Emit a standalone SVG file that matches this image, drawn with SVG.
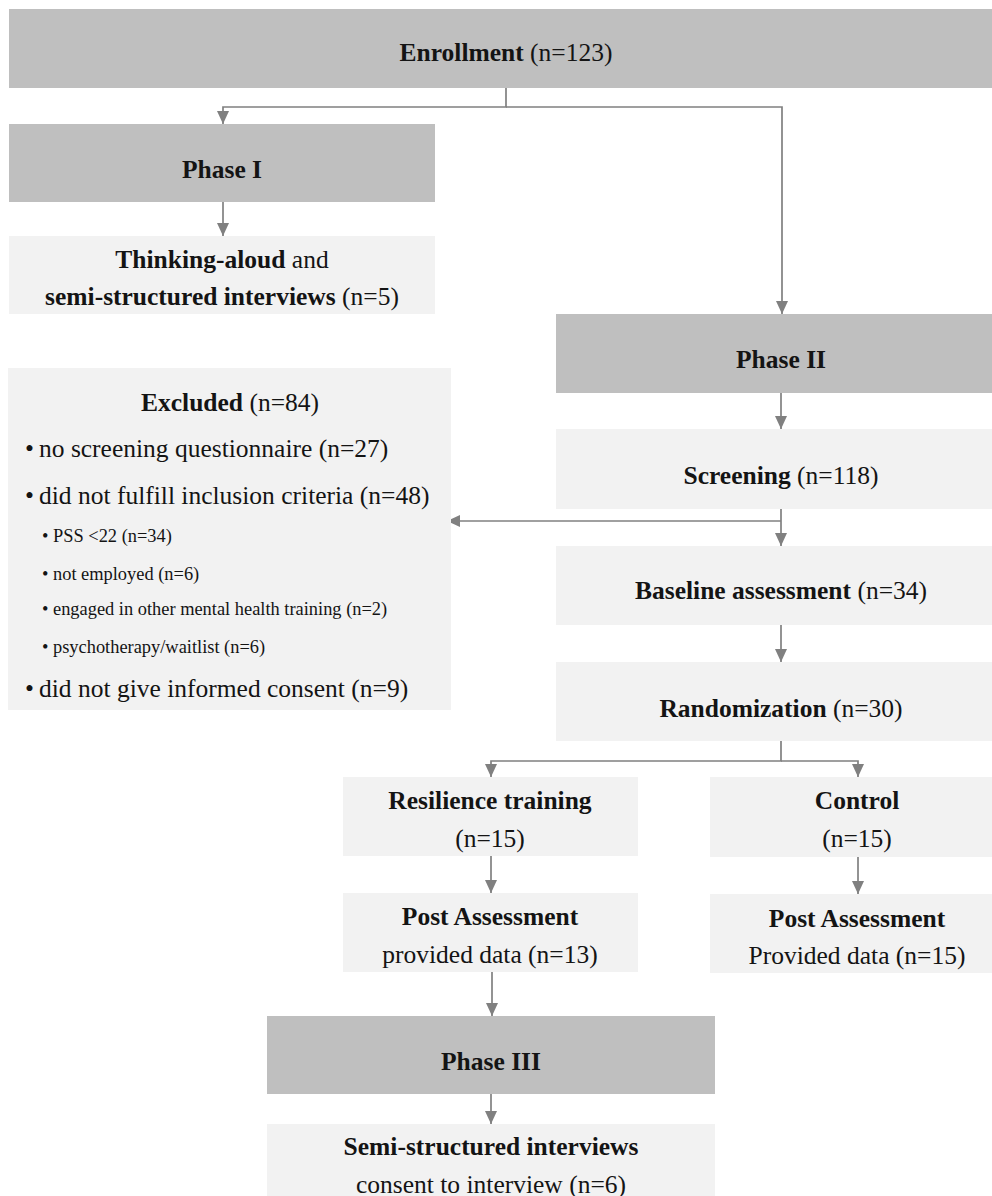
<svg xmlns="http://www.w3.org/2000/svg" width="992" height="1196" viewBox="0 0 992 1196">
<defs>
<marker id="ah" markerUnits="userSpaceOnUse" markerWidth="13" markerHeight="12" refX="13" refY="6" orient="auto">
<path d="M0,0 L13,6 L0,12 z" fill="#808080"/>
</marker>
<style>
.dark{fill:#bfbfbf}
.light{fill:#f2f2f2}
text{font-family:"Liberation Serif","Times New Roman",serif;fill:#141414;font-size:25.5px}
.c{text-anchor:middle}
.b{font-weight:bold}
.s{font-size:18.4px}
.con path{fill:none;stroke:#808080;stroke-width:1.7}
</style>
</defs>
<rect width="992" height="1196" fill="#ffffff"/>

<g class="con">
<path d="M506,88 V107 H223 V124" marker-end="url(#ah)"/>
<path d="M506,107 H782 V314" marker-end="url(#ah)"/>
<path d="M223,202 V236" marker-end="url(#ah)"/>
<path d="M781,393 V429" marker-end="url(#ah)"/>
<path d="M781,509 V546" marker-end="url(#ah)"/>
<path d="M781,521 H447" marker-end="url(#ah)"/>
<path d="M781,625 V662" marker-end="url(#ah)"/>
<path d="M781,741 V761 H491 V777" marker-end="url(#ah)"/>
<path d="M781,761 H858 V777" marker-end="url(#ah)"/>
<path d="M491,856 V893" marker-end="url(#ah)"/>
<path d="M858,857 V894" marker-end="url(#ah)"/>
<path d="M492,972 V1016" marker-end="url(#ah)"/>
<path d="M491,1094 V1124" marker-end="url(#ah)"/>
</g>

<g id="enrollment">
<rect class="dark" x="9" y="9" width="1000" height="79"/>
<text class="c" x="506" y="61"><tspan class="b">Enrollment</tspan> (n=123)</text>
</g>

<g id="phase1">
<rect class="dark" x="9" y="124" width="426" height="78"/>
<text class="c b" x="222" y="178">Phase I</text>
</g>

<g id="thinking">
<rect class="light" x="9" y="236" width="426" height="78"/>
<text class="c" x="222" y="268"><tspan class="b">Thinking-aloud</tspan> and</text>
<text class="c" x="222" y="305"><tspan class="b">semi-structured interviews</tspan> (n=5)</text>
</g>

<g id="excluded">
<rect class="light" x="8" y="368" width="443" height="342"/>
<text class="c" x="230" y="411"><tspan class="b">Excluded</tspan> (n=84)</text>
<text x="25" y="457">•</text><text x="39" y="457">no screening questionnaire (n=27)</text>
<text x="25" y="504">•</text><text x="39" y="504">did not fulfill inclusion criteria (n=48)</text>
<text class="s" x="42" y="542">•</text><text class="s" x="53" y="542">PSS &lt;22 (n=34)</text>
<text class="s" x="42" y="580">•</text><text class="s" x="53" y="580">not employed (n=6)</text>
<text class="s" x="42" y="615">•</text><text class="s" x="53" y="615">engaged in other mental health training (n=2)</text>
<text class="s" x="42" y="653">•</text><text class="s" x="53" y="653">psychotherapy/waitlist (n=6)</text>
<text x="25" y="697">•</text><text x="39" y="697">did not give informed consent (n=9)</text>
</g>

<g id="phase2">
<rect class="dark" x="556" y="314" width="450" height="79"/>
<text class="c b" x="781" y="368">Phase II</text>
</g>

<g id="screening">
<rect class="light" x="556" y="429" width="450" height="80"/>
<text class="c" x="781" y="484"><tspan class="b">Screening</tspan> (n=118)</text>
</g>

<g id="baseline">
<rect class="light" x="556" y="546" width="450" height="79"/>
<text class="c" x="781" y="599"><tspan class="b">Baseline assessment</tspan> (n=34)</text>
</g>

<g id="randomization">
<rect class="light" x="556" y="662" width="450" height="79"/>
<text class="c" x="781" y="717"><tspan class="b">Randomization</tspan> (n=30)</text>
</g>

<g id="resilience">
<rect class="light" x="343" y="777" width="295" height="79"/>
<text class="c b" x="490" y="809">Resilience training</text>
<text class="c" x="490" y="847">(n=15)</text>
</g>

<g id="control">
<rect class="light" x="710" y="777" width="294" height="80"/>
<text class="c b" x="857" y="809">Control</text>
<text class="c" x="857" y="847">(n=15)</text>
</g>

<g id="post-resilience">
<rect class="light" x="343" y="893" width="295" height="79"/>
<text class="c b" x="490" y="925">Post Assessment</text>
<text class="c" x="490" y="963">provided data (n=13)</text>
</g>

<g id="post-control">
<rect class="light" x="710" y="894" width="294" height="79"/>
<text class="c b" x="857" y="927">Post Assessment</text>
<text class="c" x="857" y="964">Provided data (n=15)</text>
</g>

<g id="phase3">
<rect class="dark" x="267" y="1016" width="448" height="78"/>
<text class="c b" x="491" y="1070">Phase III</text>
</g>

<g id="interviews">
<rect class="light" x="267" y="1124" width="448" height="80"/>
<text class="c b" x="491" y="1155">Semi-structured interviews</text>
<text class="c" x="491" y="1193">consent to interview (n=6)</text>
</g>
</svg>
